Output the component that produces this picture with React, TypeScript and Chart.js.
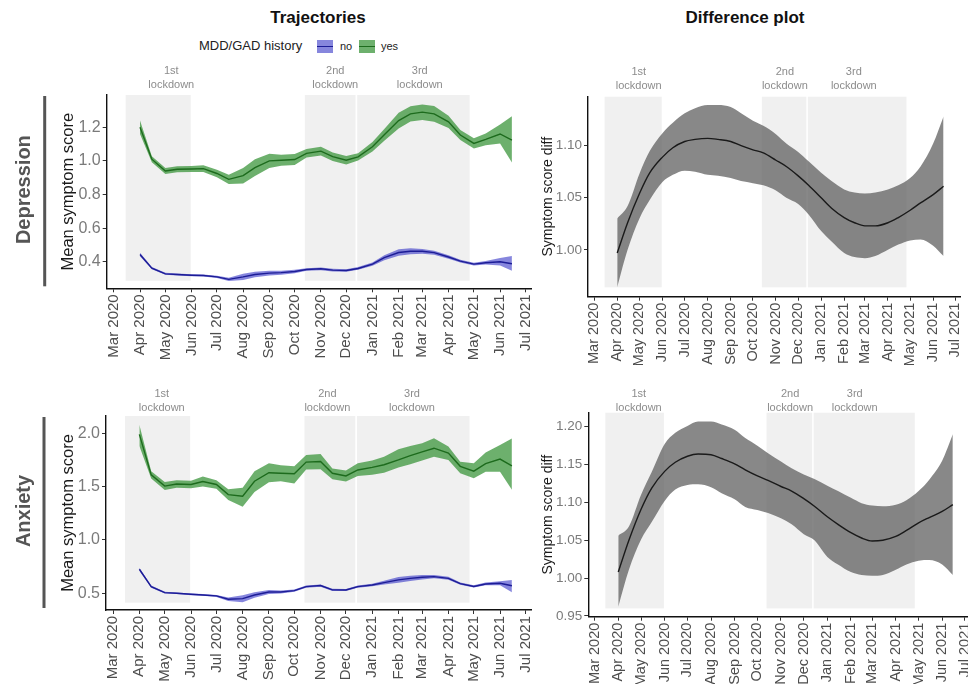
import { useEffect, useRef } from "react";
import { Chart, registerables, type ChartConfiguration, type Plugin } from "chart.js";

Chart.register(...registerables);

const FONT = "'Liberation Sans', Arial, Helvetica, sans-serif";

// survey waves: 1st and 15th of each month
const waveDates = [
  "2020-04-01", "2020-04-15", "2020-05-01", "2020-05-15", "2020-06-01", "2020-06-15",
  "2020-07-01", "2020-07-15", "2020-08-01", "2020-08-15", "2020-09-01", "2020-09-15",
  "2020-10-01", "2020-10-15", "2020-11-01", "2020-11-15", "2020-12-01", "2020-12-15",
  "2021-01-01", "2021-01-15", "2021-02-01", "2021-02-15", "2021-03-01", "2021-03-15",
  "2021-04-01", "2021-04-15", "2021-05-01", "2021-05-15", "2021-06-01", "2021-06-15",
];

const monthTicks = [
  "2020-03-01", "2020-04-01", "2020-05-01", "2020-06-01", "2020-07-01", "2020-08-01",
  "2020-09-01", "2020-10-01", "2020-11-01", "2020-12-01", "2021-01-01", "2021-02-01",
  "2021-03-01", "2021-04-01", "2021-05-01", "2021-06-01", "2021-07-01",
];
const monthLabels = [
  "Mar 2020", "Apr 2020", "May 2020", "Jun 2020", "Jul 2020", "Aug 2020", "Sep 2020",
  "Oct 2020", "Nov 2020", "Dec 2020", "Jan 2021", "Feb 2021", "Mar 2021", "Apr 2021",
  "May 2021", "Jun 2021", "Jul 2021",
];

const lockNames = ["1st", "2nd", "3rd"];
const lockStart = ["2020-03-15", "2020-10-13", "2020-12-14"];
const lockEnd = ["2020-05-31", "2020-12-12", "2021-04-26"];

// Depression, MDD/GAD history = yes
const yesMidD = [1.2, 1.01, 0.94, 0.95, 0.952, 0.954, 0.925, 0.89, 0.912, 0.96, 1.0, 1.004, 1.008, 1.045, 1.058, 1.025, 1.004, 1.024, 1.084, 1.155, 1.24, 1.28, 1.29, 1.28, 1.232, 1.154, 1.104, 1.128, 1.16, 1.124];
const yesHiD = [1.24, 1.028, 0.958, 0.968, 0.97, 0.974, 0.947, 0.917, 0.958, 1.01, 1.042, 1.037, 1.041, 1.07, 1.084, 1.05, 1.029, 1.046, 1.112, 1.19, 1.287, 1.325, 1.336, 1.327, 1.269, 1.184, 1.134, 1.163, 1.216, 1.265];
const yesLoD = [1.16, 0.992, 0.922, 0.932, 0.934, 0.934, 0.903, 0.863, 0.866, 0.91, 0.958, 0.971, 0.975, 1.02, 1.032, 1.0, 0.979, 1.002, 1.056, 1.12, 1.193, 1.235, 1.244, 1.233, 1.195, 1.124, 1.074, 1.093, 1.104, 0.99];
// Depression, no history
const noMidD = [0.443, 0.362, 0.328, 0.324, 0.32, 0.318, 0.31, 0.295, 0.31, 0.324, 0.332, 0.335, 0.342, 0.354, 0.358, 0.35, 0.348, 0.36, 0.386, 0.424, 0.455, 0.462, 0.462, 0.454, 0.428, 0.404, 0.386, 0.394, 0.4, 0.388];
const noHiD = [0.453, 0.368, 0.334, 0.33, 0.326, 0.324, 0.317, 0.305, 0.328, 0.341, 0.346, 0.347, 0.352, 0.362, 0.366, 0.358, 0.356, 0.368, 0.396, 0.439, 0.475, 0.48, 0.476, 0.466, 0.438, 0.412, 0.394, 0.404, 0.422, 0.434];
const noLoD = [0.433, 0.356, 0.322, 0.318, 0.314, 0.312, 0.303, 0.285, 0.292, 0.307, 0.318, 0.323, 0.332, 0.346, 0.35, 0.342, 0.34, 0.352, 0.376, 0.409, 0.435, 0.444, 0.448, 0.442, 0.418, 0.396, 0.378, 0.384, 0.378, 0.346];

// Anxiety, yes
const yesMidA = [1.99, 1.61, 1.505, 1.525, 1.52, 1.547, 1.52, 1.425, 1.41, 1.55, 1.63, 1.625, 1.62, 1.73, 1.735, 1.625, 1.6, 1.656, 1.68, 1.705, 1.75, 1.79, 1.825, 1.86, 1.815, 1.69, 1.645, 1.715, 1.758, 1.694];
const yesHiA = [2.08, 1.645, 1.542, 1.56, 1.555, 1.595, 1.56, 1.475, 1.49, 1.645, 1.72, 1.7, 1.69, 1.797, 1.806, 1.67, 1.65, 1.72, 1.744, 1.78, 1.85, 1.88, 1.906, 1.953, 1.875, 1.734, 1.72, 1.82, 1.89, 1.95];
const yesLoA = [1.88, 1.575, 1.468, 1.49, 1.485, 1.5, 1.48, 1.375, 1.31, 1.45, 1.54, 1.55, 1.53, 1.66, 1.663, 1.57, 1.547, 1.6, 1.61, 1.63, 1.68, 1.71, 1.744, 1.78, 1.75, 1.625, 1.578, 1.64, 1.64, 1.47];
// Anxiety, no
const noMidA = [0.725, 0.562, 0.506, 0.5, 0.49, 0.484, 0.475, 0.444, 0.45, 0.484, 0.512, 0.512, 0.525, 0.562, 0.572, 0.532, 0.531, 0.562, 0.578, 0.6, 0.625, 0.64, 0.65, 0.656, 0.64, 0.59, 0.564, 0.587, 0.594, 0.57];
const noHiA = [0.74, 0.572, 0.514, 0.508, 0.498, 0.492, 0.484, 0.46, 0.482, 0.51, 0.53, 0.526, 0.536, 0.572, 0.582, 0.542, 0.541, 0.572, 0.59, 0.618, 0.652, 0.664, 0.67, 0.672, 0.654, 0.6, 0.575, 0.6, 0.612, 0.625];
const noLoA = [0.71, 0.552, 0.498, 0.492, 0.482, 0.476, 0.466, 0.428, 0.415, 0.458, 0.494, 0.498, 0.514, 0.552, 0.562, 0.522, 0.521, 0.552, 0.566, 0.582, 0.598, 0.616, 0.63, 0.64, 0.626, 0.58, 0.553, 0.574, 0.576, 0.51];

// difference plots
const diffMidD = [0.997, 1.026, 1.054, 1.074, 1.089, 1.098, 1.104, 1.106, 1.107, 1.106, 1.104, 1.1, 1.096, 1.093, 1.086, 1.08, 1.071, 1.062, 1.05, 1.04, 1.031, 1.026, 1.023, 1.023, 1.026, 1.031, 1.038, 1.045, 1.053, 1.061];
const diffHiD = [1.03, 1.042, 1.073, 1.095, 1.112, 1.122, 1.131, 1.136, 1.139, 1.139, 1.137, 1.131, 1.124, 1.119, 1.111, 1.102, 1.094, 1.085, 1.074, 1.066, 1.058, 1.055, 1.054, 1.055, 1.058, 1.062, 1.069, 1.08, 1.102, 1.128];
const diffLoD = [0.964, 1.0, 1.03, 1.048, 1.065, 1.072, 1.076, 1.075, 1.072, 1.071, 1.069, 1.066, 1.064, 1.062, 1.057, 1.05, 1.044, 1.034, 1.018, 1.008, 0.997, 0.993, 0.992, 0.994, 1.0, 1.005, 1.009, 1.01, 1.004, 0.994];
const diffMidA = [1.008, 1.05, 1.091, 1.119, 1.141, 1.153, 1.161, 1.164, 1.163, 1.158, 1.151, 1.143, 1.135, 1.129, 1.121, 1.115, 1.105, 1.095, 1.081, 1.071, 1.06, 1.053, 1.049, 1.05, 1.055, 1.063, 1.073, 1.08, 1.088, 1.097];
const diffHiA = [1.056, 1.068, 1.11, 1.14, 1.177, 1.192, 1.201, 1.207, 1.207, 1.203, 1.196, 1.185, 1.175, 1.165, 1.154, 1.145, 1.137, 1.131, 1.122, 1.115, 1.106, 1.099, 1.096, 1.095, 1.097, 1.103, 1.115, 1.13, 1.155, 1.19];
const diffLoA = [0.962, 1.011, 1.051, 1.074, 1.102, 1.117, 1.123, 1.124, 1.12, 1.112, 1.104, 1.094, 1.09, 1.086, 1.079, 1.071, 1.058, 1.05, 1.028, 1.018, 1.008, 1.004, 1.003, 1.004, 1.011, 1.018, 1.023, 1.024, 1.018, 1.004];

const GREEN_LINE = "#1d6b1d";
const GREEN_BAND = "rgba(60,150,60,0.75)";
const BLUE_LINE = "#1c1c96";
const BLUE_BAND = "rgba(60,60,200,0.62)";
const GREY_BAND = "rgba(90,90,90,0.72)";
const SHADE = "#f0f0f0";

const DAY0 = Date.UTC(2020, 2, 1);
const toDay = (iso: string) => (Date.parse(iso + "T00:00:00Z") - DAY0) / 86400000;
const waveDays = waveDates.map(toDay);
const monthDays = monthTicks.map(toDay);
const pts = (vals: number[]) => vals.map((v, i) => ({ x: waveDays[i], y: v }));

type Panel = {
  kind: "traj" | "diff";
  series: number[][];
  yMin: number;
  yMax: number;
  yTicks: number[];
  decimals: number;
  shadeBottom: number;
  labelDays: number[];
  labelRise: number;
  yTitle: string;
  yTitleOffset: number;
  yTitleSize: number;
  yTickSize: number;
  xTickSize: number;
  panel?: string;
  pad: { left: number; top: number; right: number };
  yWidth: number;
  xHeight: number;
  box: { left: number; top: number; width: number; height: number };
};

function decor(p: Panel): Plugin<"line"> {
  return {
    id: "decor",
    beforeDatasetsDraw(chart) {
      const { ctx } = chart;
      const x = chart.scales.x;
      const y = chart.scales.y;
      ctx.save();
      ctx.fillStyle = SHADE;
      lockStart.forEach((s, i) => {
        const x0 = x.getPixelForValue(toDay(s));
        const x1 = x.getPixelForValue(toDay(lockEnd[i]));
        const yTop = y.getPixelForValue(y.max);
        const yBot = y.getPixelForValue(p.shadeBottom);
        ctx.fillRect(x0, yTop, x1 - x0, yBot - yTop);
      });
      ctx.restore();
    },
    afterDraw(chart) {
      const { ctx, chartArea: a } = chart;
      const x = chart.scales.x;
      ctx.save();
      ctx.textAlign = "center";
      ctx.textBaseline = "middle";
      ctx.fillStyle = "#8c8c8c";
      ctx.font = `11px ${FONT}`;
      lockNames.forEach((name, i) => {
        const px = x.getPixelForValue(p.labelDays[i]);
        ctx.fillText(name, px, a.top - p.labelRise);
        ctx.fillText("lockdown", px, a.top - p.labelRise + 14);
      });
      const cy = (a.top + a.bottom) / 2;
      ctx.save();
      ctx.fillStyle = "#1a1a1a";
      ctx.font = `${p.yTitleSize}px ${FONT}`;
      ctx.translate(a.left - p.yTitleOffset, cy);
      ctx.rotate(-Math.PI / 2);
      ctx.fillText(p.yTitle, 0, 0);
      ctx.restore();
      if (p.panel) {
        ctx.fillStyle = "#555555";
        ctx.fillRect(a.left - 63.5, a.top + 1, 3, a.bottom - a.top - 3);
        ctx.save();
        ctx.font = `bold 20px ${FONT}`;
        ctx.translate(a.left - 82, cy - 2);
        ctx.rotate(-Math.PI / 2);
        ctx.fillText(p.panel, 0, 0);
        ctx.restore();
      }
      ctx.restore();
    },
  };
}

function buildConfig(p: Panel): ChartConfiguration<"line"> {
  const base = { pointRadius: 0, pointHoverRadius: 0 };
  const datasets =
    p.kind === "traj"
      ? [
          { ...base, data: pts(p.series[0]), borderColor: GREEN_LINE, borderWidth: 1.4, fill: false },
          { ...base, data: pts(p.series[3]), borderColor: BLUE_LINE, borderWidth: 1.4, fill: false },
          { ...base, data: pts(p.series[1]), borderColor: "transparent", borderWidth: 0, backgroundColor: GREEN_BAND, fill: "+1" },
          { ...base, data: pts(p.series[2]), borderColor: "transparent", borderWidth: 0, fill: false },
          { ...base, data: pts(p.series[4]), borderColor: "transparent", borderWidth: 0, backgroundColor: BLUE_BAND, fill: "+1" },
          { ...base, data: pts(p.series[5]), borderColor: "transparent", borderWidth: 0, fill: false },
        ]
      : [
          { ...base, data: pts(p.series[0]), borderColor: "#1a1a1a", borderWidth: 1.4, fill: false, cubicInterpolationMode: "monotone" as const },
          { ...base, data: pts(p.series[1]), borderColor: "transparent", borderWidth: 0, backgroundColor: GREY_BAND, fill: "+1", cubicInterpolationMode: "monotone" as const },
          { ...base, data: pts(p.series[2]), borderColor: "transparent", borderWidth: 0, fill: false, cubicInterpolationMode: "monotone" as const },
        ];
  return {
    type: "line",
    data: { datasets: datasets as any },
    options: {
      animation: false,
      responsive: true,
      maintainAspectRatio: false,
      events: [],
      layout: { padding: { left: p.pad.left, top: p.pad.top, right: p.pad.right, bottom: 0 } },
      plugins: { legend: { display: false }, tooltip: { enabled: false } },
      scales: {
        x: {
          type: "linear",
          min: -8.4,
          max: 494.4,
          afterBuildTicks: (s) => {
            s.ticks = monthDays.map((v) => ({ value: v }));
          },
          afterFit: (s) => {
            s.height = p.xHeight;
          },
          ticks: {
            autoSkip: false,
            minRotation: 90,
            maxRotation: 90,
            padding: 2,
            color: "#4d4d4d",
            font: { family: FONT, size: p.xTickSize },
            callback: (_v, i) => monthLabels[i],
          },
          grid: { display: true, drawOnChartArea: false, tickLength: 4, tickColor: "#333", tickWidth: 1 },
          border: { display: true, color: "#111", width: 1.4 },
        },
        y: {
          type: "linear",
          min: p.yMin,
          max: p.yMax,
          afterBuildTicks: (s) => {
            s.ticks = p.yTicks.map((v) => ({ value: v }));
          },
          afterFit: (s) => {
            s.width = p.yWidth;
          },
          ticks: {
            padding: 2,
            color: "#7a7a7a",
            font: { family: FONT, size: p.yTickSize },
            callback: (v) => Number(v).toFixed(p.decimals),
          },
          grid: { display: true, drawOnChartArea: false, tickLength: 4, tickColor: "#333", tickWidth: 1 },
          border: { display: true, color: "#111", width: 1.4 },
        },
      },
    },
    plugins: [decor(p)],
  };
}

const panels: Panel[] = [
  {
    kind: "traj",
    series: [yesMidD, yesHiD, yesLoD, noMidD, noHiD, noLoD],
    yMin: 0.242, yMax: 1.392, yTicks: [0.4, 0.6, 0.8, 1.0, 1.2], decimals: 1,
    shadeBottom: 0.287, labelDays: [68, 262, 362], labelRise: 24,
    yTitle: "Mean symptom score", yTitleOffset: 38, yTitleSize: 16.5,
    yTickSize: 16, xTickSize: 15, panel: "Depression",
    pad: { left: 0, top: 40, right: 16.3 }, yWidth: 106.7, xHeight: 71.7,
    box: { left: 0, top: 55, width: 548, height: 305 },
  },
  {
    kind: "diff",
    series: [diffMidD, diffHiD, diffLoD],
    yMin: 0.955, yMax: 1.147, yTicks: [1.0, 1.05, 1.1], decimals: 2,
    shadeBottom: 0.964, labelDays: [60, 257, 350], labelRise: 25,
    yTitle: "Symptom score diff", yTitleOffset: 40, yTitleSize: 14,
    yTickSize: 13.5, xTickSize: 14.5,
    pad: { left: 0, top: 41.7, right: 12.7 }, yWidth: 53, xHeight: 68.3,
    box: { left: 535, top: 55, width: 440, height: 310 },
  },
  {
    kind: "traj",
    series: [yesMidA, yesHiA, yesLoA, noMidA, noHiA, noLoA],
    yMin: 0.343, yMax: 2.162, yTicks: [0.5, 1.0, 1.5, 2.0], decimals: 1,
    shadeBottom: 0.412, labelDays: [57.5, 253, 353], labelRise: 21.7,
    yTitle: "Mean symptom score", yTitleOffset: 38, yTitleSize: 16.5,
    yTickSize: 16, xTickSize: 15, panel: "Anxiety",
    pad: { left: 0, top: 46, right: 16.3 }, yWidth: 106, xHeight: 74,
    box: { left: 0, top: 370, width: 548, height: 314 },
  },
  {
    kind: "diff",
    series: [diffMidA, diffHiA, diffLoA],
    yMin: 0.949, yMax: 1.2185, yTicks: [0.95, 1.0, 1.05, 1.1, 1.15, 1.2], decimals: 2,
    shadeBottom: 0.96, labelDays: [58, 257, 342], labelRise: 18.4,
    yTitle: "Symptom score diff", yTitleOffset: 40, yTitleSize: 14,
    yTickSize: 13.5, xTickSize: 14.5,
    pad: { left: 0, top: 37.7, right: 14.4 }, yWidth: 53.3, xHeight: 67.3,
    box: { left: 535, top: 375, width: 450, height: 309 },
  },
];

function PanelChart({ p }: { p: Panel }) {
  const canvasRef = useRef<HTMLCanvasElement>(null);

  useEffect(() => {
    if (!canvasRef.current) return;
    const chart = new Chart(canvasRef.current, buildConfig(p));
    return () => {
      chart.destroy();
    };
  }, [p]);

  return (
    <div style={{ position: "absolute", left: p.box.left, top: p.box.top, width: p.box.width, height: p.box.height }}>
      <canvas ref={canvasRef} />
    </div>
  );
}

function Swatch({ band, line, left }: { band: string; line: string; left: number }) {
  return (
    <div style={{ position: "absolute", left, top: 40, width: 16.5, height: 13, background: band }}>
      <div style={{ position: "absolute", left: 0, right: 0, top: 5.8, height: 1.5, background: line }} />
    </div>
  );
}

export default function App() {
  return (
    <div
      style={{
        position: "absolute",
        left: 0,
        top: 0,
        width: 968,
        height: 684,
        overflow: "hidden",
        background: "#fff",
        fontFamily: FONT,
        color: "#111",
      }}
    >
      <div style={{ position: "absolute", left: 218, top: 8, width: 200, textAlign: "center", fontWeight: "bold", fontSize: 17, lineHeight: "20px" }}>
        Trajectories
      </div>
      <div style={{ position: "absolute", left: 645, top: 8, width: 200, textAlign: "center", fontWeight: "bold", fontSize: 17, lineHeight: "20px" }}>
        Difference plot
      </div>
      <div style={{ position: "absolute", left: 199, top: 38, fontSize: 13, lineHeight: "16px", color: "#222" }}>MDD/GAD history</div>
      <Swatch band={BLUE_BAND} line={BLUE_LINE} left={316.8} />
      <div style={{ position: "absolute", left: 340, top: 39, fontSize: 11, lineHeight: "14px", color: "#222" }}>no</div>
      <Swatch band={GREEN_BAND} line={GREEN_LINE} left={358.8} />
      <div style={{ position: "absolute", left: 381, top: 39, fontSize: 11, lineHeight: "14px", color: "#222" }}>yes</div>
      {panels.map((p, i) => (
        <PanelChart key={i} p={p} />
      ))}
    </div>
  );
}
